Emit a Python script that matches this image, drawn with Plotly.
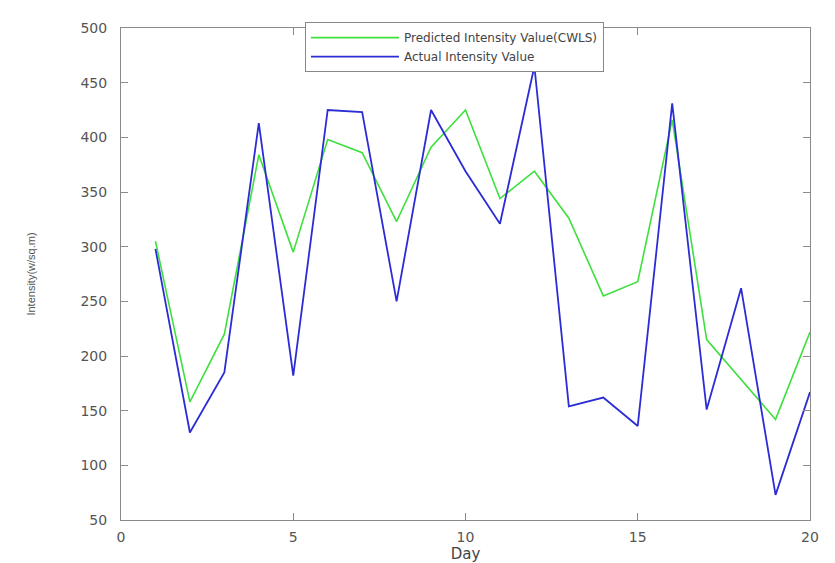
import plotly.graph_objects as go

days = [1, 2, 3, 4, 5, 6, 7, 8, 9, 10, 11, 12, 13, 14, 15, 16, 17, 18, 19, 20]
predicted = [305, 158, 220, 384, 295, 398, 386, 323, 391, 425, 344, 369, 326, 255, 268, 416, 215, 179, 142, 222]
actual = [298, 130, 185, 413, 182, 425, 423, 250, 425, 369, 321, 465, 154, 162, 136, 431, 151, 262, 73, 167]
x_ticks = [0, 5, 10, 15, 20]
y_ticks = [50, 100, 150, 200, 250, 300, 350, 400, 450, 500]

fig = go.Figure()
fig.add_trace(go.Scatter(x=days, y=predicted, mode="lines",
                         name="Predicted Intensity Value(CWLS)",
                         line=dict(color="#3ee03e", width=1.6)))
fig.add_trace(go.Scatter(x=days, y=actual, mode="lines",
                         name="Actual Intensity Value",
                         line=dict(color="#2c2cd6", width=1.8)))

axis_common = dict(showline=True, linecolor="#8a8a8a", linewidth=1, mirror="ticks",
                   ticks="inside", ticklen=7, tickcolor="#8a8a8a", showgrid=False,
                   zeroline=False,
                   tickfont=dict(family="DejaVu Sans", size=14, color="#555555"))

fig.update_xaxes(range=[0, 20], tickvals=x_ticks, ticklabelstandoff=4,
                 title=dict(text="Day", font=dict(family="DejaVu Sans", size=15, color="#444444"),
                            standoff=4),
                 **axis_common)
fig.update_yaxes(range=[50, 500], tickvals=y_ticks, ticklabelstandoff=10,
                 title=dict(text="Intensity(w/sq.m)",
                            font=dict(family="Liberation Sans", size=11, color="#555555"),
                            standoff=42),
                 **axis_common)

fig.update_layout(
    width=835, height=563,
    margin=dict(l=113, r=33, t=16, b=43),
    plot_bgcolor="white", paper_bgcolor="white",
    legend=dict(x=0.267, y=1.012, xanchor="left", yanchor="top",
                bordercolor="#888888", borderwidth=1, bgcolor="white",
                itemwidth=88, tracegroupgap=0,
                font=dict(family="DejaVu Sans", size=12, color="#444444")),
)

fig.write_html("out.html")
